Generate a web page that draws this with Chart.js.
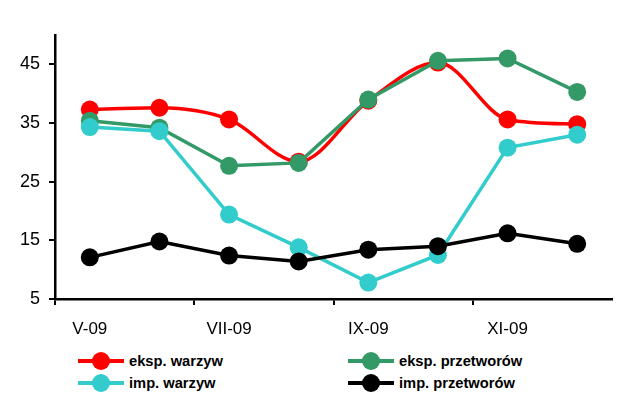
<!DOCTYPE html>
<html>
<head>
<meta charset="utf-8">
<script src="https://cdn.jsdelivr.net/npm/chart.js@4.4.1/dist/chart.umd.min.js"></script>
<style>
  html, body { margin: 0; padding: 0; background: #fff; }
  #wrap { position: relative; width: 626px; height: 416px; }
  #c { position: absolute; left: 0; top: 0; }
  .leg { position: absolute; height: 20px; font: bold 14.7px "Liberation Sans", Arial, sans-serif; color: #000; display: flex; align-items: center; white-space: nowrap; }
  .leg .sw { position: relative; width: 46px; height: 20px; margin-right: 5px; }
  .leg .sw .ln { position: absolute; left: 0; right: 0; top: 8px; height: 4px; }
  .leg .sw .dt { position: absolute; left: 14px; top: 1px; width: 18px; height: 18px; border-radius: 50%; }
</style>
</head>
<body>
<div id="wrap">
  <canvas id="c" width="626" height="340"></canvas>
</div>
<script>
/* ===== データ ===== */
const MONTHS = ['V-09', 'VI-09', 'VII-09', 'VIII-09', 'IX-09', 'X-09', 'XI-09', 'XII-09'];
const EKSP_WARZYW     = [37.3, 37.6, 35.6, 28.4, 38.8, 45.3, 35.6, 34.8];
const EKSP_PRZETWOROW = [35.4, 34.2, 27.7, 28.2, 39.0, 45.6, 46.0, 40.3];
const IMP_WARZYW      = [34.3, 33.6, 19.4, 13.8, 7.8, 12.5, 30.8, 33.0];
const IMP_PRZETWOROW  = [12.1, 14.8, 12.4, 11.4, 13.4, 14.0, 16.2, 14.4];
const SERIES_NAMES = ['eksp. warzyw', 'eksp. przetworów', 'imp. warzyw', 'imp. przetworów'];
const Y_TICKS = [5, 15, 25, 35, 45];
const Y_MIN = 5, Y_MAX = 50;

const COLORS = ['#FF0000', '#339966', '#33CCCC', '#000000'];
const FONT = '"Liberation Sans", Arial, sans-serif';

function ds(i, data, smooth){
  return {
    label: SERIES_NAMES[i],
    data,
    borderColor: COLORS[i],
    backgroundColor: COLORS[i],
    pointBackgroundColor: COLORS[i],
    pointBorderColor: COLORS[i],
    borderWidth: 3.5,
    pointRadius: 9,
    pointBorderWidth: 0,
    tension: smooth ? 0.4 : 0,
    cubicInterpolationMode: smooth ? 'monotone' : 'default',
    order: 4 - i
  };
}

new Chart(document.getElementById('c'), {
  type: 'line',
  data: {
    labels: MONTHS,
    datasets: [
      ds(0, EKSP_WARZYW, true),
      ds(1, EKSP_PRZETWOROW, false),
      ds(2, IMP_WARZYW, false),
      ds(3, IMP_PRZETWOROW, false)
    ]
  },
  options: {
    responsive: false,
    animation: false,
    layout: { padding: { left: 0, right: 14, top: 35, bottom: 0 } },
    plugins: { legend: { display: false }, tooltip: { enabled: false } },
    scales: {
      x: {
        offset: true,
        grid: {
          offset: true,
          drawOnChartArea: false,
          drawTicks: true,
          tickLength: 6,
          lineWidth: 2,
          color: (c) => (c.index % 2 === 0 ? '#000' : 'rgba(0,0,0,0)')
        },
        border: { display: true, color: '#000', width: 2.5 },
        ticks: {
          autoSkip: false, maxRotation: 0, minRotation: 0,
          color: '#000', font: { family: FONT, size: 17 }, padding: 14,
          callback: function(v, i){ return i % 2 === 0 ? this.getLabelForValue(v) : ''; }
        },
        afterFit: (s) => { s.height = 41; }
      },
      y: {
        min: Y_MIN, max: Y_MAX,
        grid: {
          drawOnChartArea: false,
          drawTicks: true,
          tickLength: 6,
          lineWidth: 2,
          color: '#000'
        },
        border: { display: true, color: '#000', width: 2.5 },
        ticks: {
          color: '#000', font: { family: FONT, size: 18 }, padding: 9
        },
        afterBuildTicks: (s) => { s.ticks = Y_TICKS.map(v => ({ value: v })); },
        afterFit: (s) => { s.width = 55; }
      }
    }
  }
});

/* ===== 凡例 ===== */
const LEG_POS = [[78, 351], [348, 351], [78, 373], [348, 373]];
const wrap = document.getElementById('wrap');
SERIES_NAMES.forEach((name, i) => {
  const el = document.createElement('div');
  el.className = 'leg';
  el.style.left = LEG_POS[i][0] + 'px';
  el.style.top = LEG_POS[i][1] + 'px';
  el.innerHTML = `<span class="sw"><span class="ln" style="background:${COLORS[i]}"></span><span class="dt" style="background:${COLORS[i]}"></span></span><span>${name}</span>`;
  wrap.appendChild(el);
});
</script>
</body>
</html>
